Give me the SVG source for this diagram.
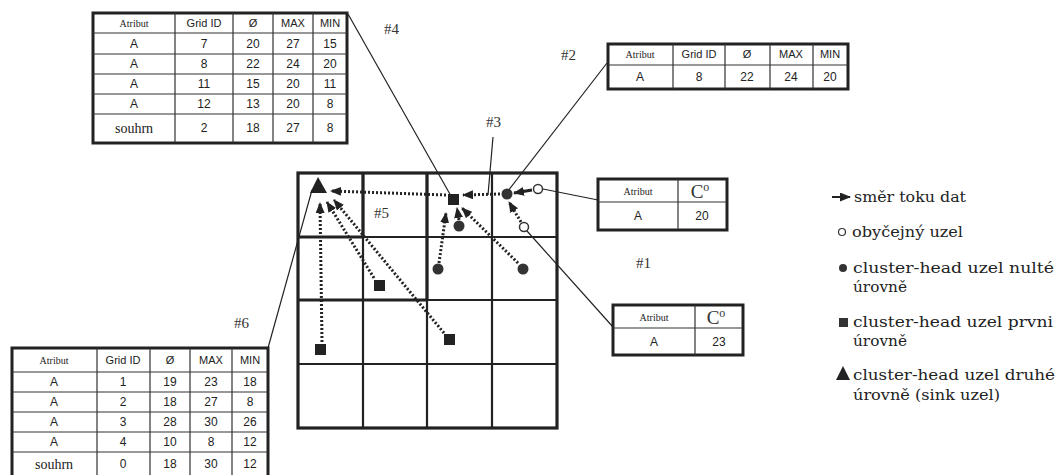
<svg xmlns="http://www.w3.org/2000/svg" width="1058" height="475" viewBox="0 0 1058 475">
<defs>
<marker id="ah" markerUnits="userSpaceOnUse" markerWidth="11" markerHeight="9" refX="10" refY="4.5" orient="auto"><path d="M0,0 L11,4.5 L0,9 z" fill="#222"/></marker>
<style>
.bg{fill:#fff}
.tb{fill:#fff;stroke:#222;stroke-width:3}
.tl{stroke:#333;stroke-width:1.2;fill:none}
.v{font-family:"Liberation Sans",Arial,sans-serif;font-size:12px;fill:#222;text-anchor:middle}
.h{font-family:"Liberation Sans",Arial,sans-serif;font-size:11px;fill:#222;text-anchor:middle}
.hs{font-family:"Liberation Serif","Times New Roman",serif;font-size:10px;fill:#222;text-anchor:middle}
.sou{font-family:"Liberation Serif","Times New Roman",serif;font-size:14px;fill:#222;text-anchor:middle}
.cc{font-family:"Liberation Serif","Times New Roman",serif;font-size:19px;fill:#333;text-anchor:middle}
.lab{font-family:"Liberation Serif","Times New Roman",serif;font-size:15px;fill:#333}
.leg{font-family:"DejaVu Serif","Liberation Serif",serif;font-size:14px;fill:#222}
.gi{stroke:#222;stroke-width:2.2;fill:none}
.gt{stroke:#222;stroke-width:3.2;fill:none}
.dot{stroke:#222;stroke-width:3;stroke-dasharray:2 2;fill:none;marker-end:url(#ah)}
.sol{stroke:#222;stroke-width:3;fill:none;marker-end:url(#ah)}
.lead{stroke:#222;stroke-width:1.2;fill:none}
.n0{fill:#333}
.no{fill:#fff;stroke:#333;stroke-width:1.5}
</style>
</defs>
<rect class="bg" x="0" y="0" width="1058" height="475"/>

<!-- main grid -->
<g id="grid">
<rect class="gt" x="298" y="173" width="259" height="255"/>
<path class="gi" d="M363,173V428 M427,173V428 M492,173V428 M298,237H557 M298,300H557 M298,364H557"/>
<path class="gt" d="M427,173V300 M298,300H427 M363,173V237 M298,237H363"/>
</g>

<!-- connectors -->
<g id="connectors">
<line class="dot" x1="446" y1="195" x2="331" y2="191"/>
<line class="dot" x1="500" y1="194" x2="463" y2="195"/>
<line class="sol" x1="532" y1="190" x2="514" y2="193"/>
<line class="dot" x1="521" y1="222" x2="509" y2="202"/>
<line class="dot" x1="439" y1="263" x2="446" y2="213"/>
<line class="dot" x1="459" y1="220" x2="457" y2="208"/>
<line class="dot" x1="518" y1="263" x2="462" y2="208"/>
<line class="dot" x1="322" y1="342" x2="320" y2="203"/>
<line class="dot" x1="374" y1="278" x2="327" y2="202"/>
<line class="dot" x1="444" y1="333" x2="334" y2="200"/>
<line class="lead" x1="348" y1="14" x2="451" y2="196"/>
<line class="lead" x1="607" y1="63" x2="508" y2="191"/>
<line class="lead" x1="493" y1="137" x2="488" y2="195"/>
<line class="lead" x1="543" y1="189" x2="598" y2="200"/>
<line class="lead" x1="527" y1="231" x2="613" y2="327"/>
<line class="lead" x1="312" y1="190" x2="268" y2="348"/>
</g>

<!-- nodes -->
<g id="sink"><polygon points="310,193 318,177 327,193" fill="#222"/></g>
<g id="ch1-a"><rect x="448" y="194" width="11" height="11" fill="#222"/></g>
<g id="ch1-b"><rect x="374" y="280" width="11" height="11" fill="#222"/></g>
<g id="ch1-c"><rect x="444" y="334" width="11" height="11" fill="#222"/></g>
<g id="ch1-d"><rect x="315" y="344" width="11" height="11" fill="#222"/></g>
<g id="ch0-a"><circle class="n0" cx="507" cy="194" r="5.5"/></g>
<g id="ch0-b"><circle class="n0" cx="459" cy="226" r="5.5"/></g>
<g id="ch0-c"><circle class="n0" cx="438" cy="269" r="5.5"/></g>
<g id="ch0-d"><circle class="n0" cx="523" cy="269" r="5.5"/></g>
<g id="node-a"><circle class="no" cx="538" cy="189" r="4.5"/></g>
<g id="node-b"><circle class="no" cx="524" cy="227" r="4.5"/></g>

<!-- labels -->
<g id="labels">
<text class="lab" x="384" y="34">#4</text>
<text class="lab" x="561" y="60">#2</text>
<text class="lab" x="486" y="127">#3</text>
<text class="lab" x="374" y="218">#5</text>
<text class="lab" x="234" y="328">#6</text>
<text class="lab" x="636" y="268">#1</text>
</g>

<!-- table #4 -->
<g id="table4">
<rect class="tb" x="93" y="13" width="254" height="130"/>
<path class="tl" d="M175,13V143 M233,13V143 M273,13V143 M313,13V143 M93,33H347 M93,54H347 M93,74H347 M93,94H347 M93,114H347"/>
<text class="hs" x="134" y="27">Atribut</text><text class="h" x="204" y="27">Grid ID</text><text class="h" x="253" y="27">Ø</text><text class="h" x="293" y="27">MAX</text><text class="h" x="330" y="27">MIN</text>
<text class="v" x="134" y="48">A</text><text class="v" x="204" y="48">7</text><text class="v" x="253" y="48">20</text><text class="v" x="293" y="48">27</text><text class="v" x="330" y="48">15</text>
<text class="v" x="134" y="68">A</text><text class="v" x="204" y="68">8</text><text class="v" x="253" y="68">22</text><text class="v" x="293" y="68">24</text><text class="v" x="330" y="68">20</text>
<text class="v" x="134" y="88">A</text><text class="v" x="204" y="88">11</text><text class="v" x="253" y="88">15</text><text class="v" x="293" y="88">20</text><text class="v" x="330" y="88">11</text>
<text class="v" x="134" y="108">A</text><text class="v" x="204" y="108">12</text><text class="v" x="253" y="108">13</text><text class="v" x="293" y="108">20</text><text class="v" x="330" y="108">8</text>
<text class="sou" x="134" y="133">souhrn</text><text class="v" x="204" y="132">2</text><text class="v" x="253" y="132">18</text><text class="v" x="293" y="132">27</text><text class="v" x="330" y="132">8</text>
</g>

<!-- table #2 -->
<g id="table2">
<rect class="tb" x="608" y="44" width="240" height="45"/>
<path class="tl" d="M673,44V89 M725,44V89 M770,44V89 M813,44V89 M608,65H848"/>
<text class="hs" x="640" y="58">Atribut</text><text class="h" x="699" y="58">Grid ID</text><text class="h" x="747" y="58">Ø</text><text class="h" x="791" y="58">MAX</text><text class="h" x="830" y="58">MIN</text>
<text class="v" x="640" y="81">A</text><text class="v" x="699" y="81">8</text><text class="v" x="747" y="81">22</text><text class="v" x="791" y="81">24</text><text class="v" x="830" y="81">20</text>
</g>

<!-- table #1a -->
<g id="table1a">
<rect class="tb" x="598" y="179" width="129" height="51"/>
<path class="tl" d="M678,179V230 M598,202H727"/>
<text class="hs" x="638" y="195">Atribut</text><text class="cc" x="700" y="198">C<tspan font-size="12" dy="-7">o</tspan></text>
<text class="v" x="638" y="220">A</text><text class="v" x="702" y="220">20</text>
</g>

<!-- table #1b -->
<g id="table1b">
<rect class="tb" x="613" y="305" width="130" height="50"/>
<path class="tl" d="M695,305V355 M613,328H743"/>
<text class="hs" x="654" y="321">Atribut</text><text class="cc" x="716" y="324">C<tspan font-size="12" dy="-7">o</tspan></text>
<text class="v" x="654" y="346">A</text><text class="v" x="719" y="346">23</text>
</g>

<!-- table #6 -->
<g id="table6">
<rect class="tb" x="12" y="348" width="256" height="130"/>
<path class="tl" d="M97,348V478 M150,348V478 M190,348V478 M232,348V478 M12,372H268 M12,392H268 M12,412H268 M12,432H268 M12,452H268"/>
<text class="hs" x="54" y="364">Atribut</text><text class="h" x="123" y="364">Grid ID</text><text class="h" x="170" y="364">Ø</text><text class="h" x="211" y="364">MAX</text><text class="h" x="250" y="364">MIN</text>
<text class="v" x="54" y="386">A</text><text class="v" x="123" y="386">1</text><text class="v" x="170" y="386">19</text><text class="v" x="211" y="386">23</text><text class="v" x="250" y="386">18</text>
<text class="v" x="54" y="406">A</text><text class="v" x="123" y="406">2</text><text class="v" x="170" y="406">18</text><text class="v" x="211" y="406">27</text><text class="v" x="250" y="406">8</text>
<text class="v" x="54" y="426">A</text><text class="v" x="123" y="426">3</text><text class="v" x="170" y="426">28</text><text class="v" x="211" y="426">30</text><text class="v" x="250" y="426">26</text>
<text class="v" x="54" y="446">A</text><text class="v" x="123" y="446">4</text><text class="v" x="170" y="446">10</text><text class="v" x="211" y="446">8</text><text class="v" x="250" y="446">12</text>
<text class="sou" x="54" y="469">souhrn</text><text class="v" x="123" y="468">0</text><text class="v" x="170" y="468">18</text><text class="v" x="211" y="468">30</text><text class="v" x="250" y="468">12</text>
</g>

<!-- legend -->
<g id="legend">
<line x1="832" y1="197" x2="850" y2="197" stroke="#222" stroke-width="2" marker-end="url(#ah)"/>
<text class="leg" x="854" y="202" textLength="112" lengthAdjust="spacingAndGlyphs">směr toku dat</text>
<circle cx="842" cy="232" r="3.5" fill="#fff" stroke="#333" stroke-width="1.2"/>
<text class="leg" x="852" y="237" textLength="111" lengthAdjust="spacingAndGlyphs">obyčejný uzel</text>
<circle cx="843" cy="268" r="4" fill="#333"/>
<text class="leg" x="853" y="273" textLength="201" lengthAdjust="spacingAndGlyphs">cluster-head uzel nulté</text>
<text class="leg" x="853" y="292" textLength="54" lengthAdjust="spacingAndGlyphs">úrovně</text>
<rect x="839" y="318" width="9" height="9" fill="#333"/>
<text class="leg" x="853" y="327" textLength="200" lengthAdjust="spacingAndGlyphs">cluster-head uzel prvni</text>
<text class="leg" x="853" y="346" textLength="54" lengthAdjust="spacingAndGlyphs">úrovně</text>
<polygon points="836,380 843,366 850,380" fill="#222"/>
<text class="leg" x="853" y="380" textLength="202" lengthAdjust="spacingAndGlyphs">cluster-head uzel druhé</text>
<text class="leg" x="853" y="400" textLength="147" lengthAdjust="spacingAndGlyphs">úrovně (sink uzel)</text>
</g>
</svg>
